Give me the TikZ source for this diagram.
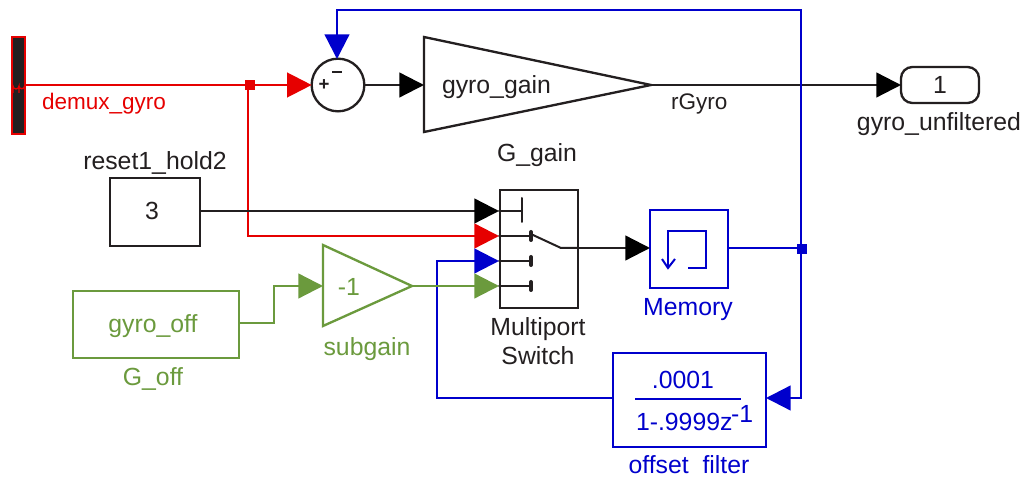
\documentclass[tikz,border=0pt]{standalone}
\usepackage{fontspec}
\setmainfont{Liberation Sans}
\usetikzlibrary{arrows.meta}
\definecolor{cred}{HTML}{E60000}
\definecolor{cblue}{HTML}{0000CC}
\definecolor{cgreen}{HTML}{6B9A3D}
\definecolor{cblack}{HTML}{231F20}
\tikzset{
  x=0.75pt,y=-0.75pt,
  blk/.style 2 args={draw,line width=1.75pt,minimum width=#1*.75pt,minimum height=#2*.75pt,inner sep=0pt,outer sep=0pt},
  lbl/.style={inner sep=0pt,outer sep=0pt,font=\fontsize{18.6}{22}\selectfont},
  sig/.style={inner sep=0pt,outer sep=0pt,font=\fontsize{16.9}{20}\selectfont},
  wire/.style={line width=1.75pt,-{Triangle[length=18.5pt,width=18.5pt]},line join=miter},
  bwire/.style={line width=1.75pt,-{Triangle[length=18.5pt,width=18.5pt,fill=black,color=black]},line join=miter},
  plain/.style={line width=1.75pt},
  junc/.style={fill,inner sep=0pt,outer sep=0pt,minimum size=7pt},
  contact/.style={line width=1.5pt,line cap=round},
  stud/.style={line width=3pt,line cap=round},
}
\begin{document}
\begin{tikzpicture}
\useasboundingbox (0,0) rectangle (1026,477);
% coordinates
\coordinate (sumtop) at (337,59);
\coordinate (sumleft) at (311,85);
\coordinate (sumright) at (365,85);
\coordinate (gainleft) at (424,85);
\coordinate (gaintip) at (651,85);
\coordinate (subleft) at (323,286);
\coordinate (subtip) at (412,286);
\coordinate (swa) at (499,211);
\coordinate (swb) at (499,236);
\coordinate (swc) at (499,261);
\coordinate (swd) at (499,286);
\coordinate (swpivot) at (561,248);
\coordinate (memout) at (728,248);
% blocks
\draw[cred,fill=cblack,line width=1.75pt] (12,37) rectangle (25,134);
\coordinate (demux) at (25,85);
\draw[cred,line width=1pt] (13,93) -- (13,86) arc (180:0:3) -- (19,93) (19,86) arc (180:0:2.8) -- (24.6,90);
\node[draw=cblack,line width=1.75pt,circle,minimum size=39.5pt,inner sep=0pt,outer sep=0pt] (sum) at (338,85) {};
\node[cblack,lbl,font=\fontsize{14}{16}\bfseries\selectfont] (plus) at (324,85) {+};
\draw[cblack,line width=1.6pt] (332,72) -- (342,72);
\draw[cblack,line width=1.75pt,line join=miter] (gainleft|-0,37) -- (gaintip) -- (gainleft|-0,132) -- cycle;
\node[lbl,cblack,anchor=west] (gaintxt) at (442,87) {gyro\_gain};
\node[lbl,cblack] (ggain) at (537,155) {G\_gain};
\node[blk={78}{36},cblack,rounded corners=8.5pt] (out) at (940,85) {\fontsize{18.6}{22}\selectfont 1};
\node[lbl,cblack] (outl) at (939,124) {gyro\_unfiltered};
\node[sig,cred,anchor=west] (demuxl) at (42,104) {demux\_gyro};
\node[sig,cblack,anchor=west] (rg) at (671,104) {rGyro};
\node[lbl,cblack] (rl) at (155,163) {reset1\_hold2};
\node[blk={90}{68},cblack] (reset) at (155,212) {};
\node[lbl,cblack] at (152,211) {3};
\node[blk={78}{118},cblack] (sw) at (539,249) {};
\node[lbl,cblack,align=center] (swl) at (538,329) {Multiport};
\node[lbl,cblack] (swl2) at (538,356) {Switch};
\node[blk={78}{78},cblue] (mem) at (689,249) {};
\node[lbl,cblue] (meml) at (688,310) {Memory};
\node[blk={153}{94},cblue] (filt) at (689.5,400) {};
\node[lbl,cblue] (filtnum) at (683,380) {.0001};
\node[lbl,cblue,anchor=base west] (filtden) at (636,431) {1-.9999z\kern-1pt\raisebox{6pt}{-1}};
\draw[cblue,line width=1.75pt] (635,399) -- (741,399);
\node[lbl,cblue] (filtl) at (689,465) {offset\ \ filter};
\draw[cgreen,line width=1.75pt,line join=miter] (subleft|-0,245) -- (subtip) -- (subleft|-0,326) -- cycle;
\node[lbl,cgreen] (subt) at (349,287) {-1};
\node[lbl,cgreen] (subl) at (367,349) {subgain};
\node[blk={166}{67},cgreen] (off) at (156,324.5) {};
\node[lbl,cgreen] at (153,326) {gyro\_off};
\node[lbl,cgreen] (offl) at (153,379) {G\_off};
% memory glyph
\draw[cblue,line width=1.5pt,line join=miter] (688,268) -- (706,268) -- (706,231) -- (668,231) -- (668,268);
\draw[cblue,line width=1.5pt] (662,259) -- (668,268) -- (675,259);
% switch internals
\draw[cblack,contact] (swa) -- (522,211) (522,198) -- (522,222);
\draw[cblack,contact] (swb) -- (531,236) (swc) -- (531,261) (swd) -- (531,286);
\draw[cblack,stud] (531,232) -- (531,240) (531,257) -- (531,265) (531,282) -- (531,290);
\draw[cblack,contact] (533,235) -- (swpivot) -- (sw.east|-swpivot);
% wires
\draw[wire,cred] (demux) -- (sum.west);
\node[junc,cred] (j1) at (250,85) {};
\draw[wire,cred] (248,85) -- (248,236) -- (swb);
\draw[bwire,cblack] (sumright) -- (gainleft);
\draw[bwire,cblack] (gaintip) -- (out.west);
\draw[bwire,cblack] (reset.east|-swa) -- (swa);
\draw[bwire,cblack] (swpivot) -- (mem.west|-swpivot);
\draw[plain,cblue] (memout) -- (802,248);
\node[junc,cblue] (j2) at (802,249) {};
\draw[wire,cblue] (801,249) -- (801,10) -- (337,10) -- (sumtop);
\draw[wire,cblue] (801,249) -- (801,398) -- (filt.east|-0,398);
\draw[wire,cblue] (filt.west|-0,398) -- (437,398) -- (437,261) -- (swc);
\draw[wire,cgreen] (off.east|-0,323) -- (274,323) -- (274,286) -- (subleft);
\draw[wire,cgreen] (subtip) -- (swd);
\end{tikzpicture}
\end{document}
